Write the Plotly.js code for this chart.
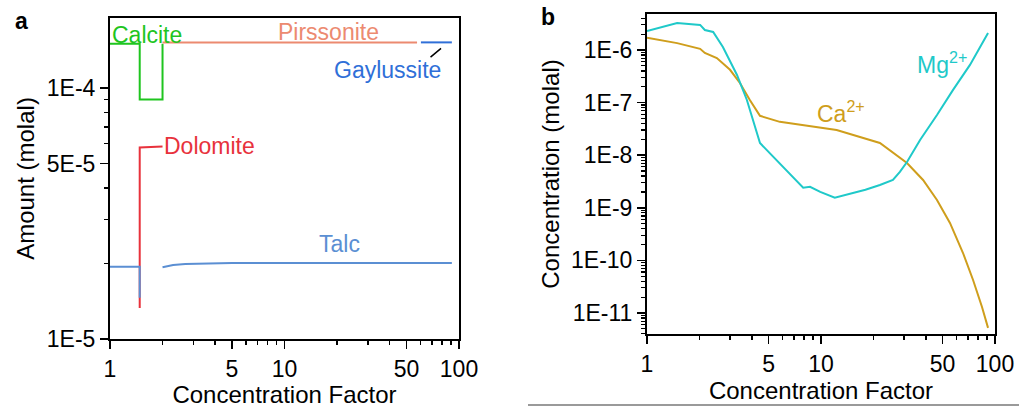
<!DOCTYPE html>
<html><head><meta charset="utf-8">
<script src="https://cdn.plot.ly/plotly-3.0.1.min.js"></script>
<style>html,body{margin:0;padding:0;background:#fff;}#chart{width:1019px;height:408px;}</style>
</head><body><div id="chart"></div>
<script>
// ---- Panel a: mineral amounts (molal) vs concentration factor ----
const cfCalcite = [1, 1.48, 1.48, 2.0, 2.0];
const amtCalcite = [1.5e-4, 1.5e-4, 9.0e-5, 9.0e-5, 1.5e-4];
const cfPirssonite = [2.0, 57.5];
const amtPirssonite = [1.52e-4, 1.52e-4];
const cfGaylussite = [60.5, 91];
const amtGaylussite = [1.52e-4, 1.52e-4];
const cfDolomite = [1.48, 1.48, 2.0];
const amtDolomite = [1.33e-5, 5.8e-5, 5.85e-5];
const cfTalc = [1, 1.48, 1.48, null, 2.0, 2.3, 2.7, 3.3, 5, 10, 50, 91];
const amtTalc = [1.94e-5, 1.94e-5, 1.46e-5, null, 1.93e-5, 1.97e-5, 1.99e-5, 2.0e-5, 2.01e-5, 2.01e-5, 2.01e-5, 2.01e-5];

// ---- Panel b: ion concentrations (molal) ----
const cfCa = [1, 1.49, 2.02, 2.15, 2.52, 3.0, 3.42, 3.9, 4.46, 5.8, 12.3, 21.8, 31.2, 38.6, 46.4, 55.1, 65.5, 74.8, 84.2, 91.2];
const concCa = [1.7e-6, 1.35e-6, 1.05e-6, 8.8e-7, 7.0e-7, 4.2e-7, 2.36e-7, 1.12e-7, 5.6e-8, 4.3e-8, 3.0e-8, 1.71e-8, 7.1e-9, 3.38e-9, 1.41e-9, 5.14e-10, 1.38e-10, 4.24e-11, 1.3e-11, 5.2e-12];
const cfMg = [1, 1.49, 2.02, 2.15, 2.4, 2.73, 3.29, 3.75, 4.46, 5.8, 7.9, 8.65, 9.9, 12.0, 18, 21.8, 25.9, 28.4, 31.2, 37.1, 46.4, 57.4, 71.8, 91.2];
const concMg = [2.3e-6, 3.26e-6, 3.0e-6, 2.4e-6, 2.2e-6, 1.14e-6, 3.35e-7, 1.12e-7, 1.7e-8, 7e-9, 2.4e-9, 2.5e-9, 2.0e-9, 1.55e-9, 2.2e-9, 2.71e-9, 3.38e-9, 4.8e-9, 7.4e-9, 1.95e-8, 5.8e-8, 1.74e-7, 5.2e-7, 2.1e-6];

// ---- Tick labels ----
const xTickVals = [1, 5, 10, 50, 100];
const xTickText = ['1', '5', '10', '50', '100'];
const xMinorVals = [2, 3, 4, 6, 7, 8, 9, 20, 30, 40, 60, 70, 80, 90];
const yaTickVals = [1e-5, 5e-5, 1e-4];
const yaTickText = ['1E-5', '5E-5', '1E-4'];
const yaMinorVals = [2e-5, 3e-5, 4e-5, 6e-5, 7e-5, 8e-5, 9e-5];
const ybTickVals = [1e-11, 1e-10, 1e-9, 1e-8, 1e-7, 1e-6];
const ybTickText = ['1E-11', '1E-10', '1E-9', '1E-8', '1E-7', '1E-6'];
const ybDecades = [1e-12, 1e-11, 1e-10, 1e-9, 1e-8, 1e-7, 1e-6];
const minorDigits = [2, 3, 4, 5, 6, 7, 8, 9];
const ybMinorVals = [];
ybDecades.forEach(d => minorDigits.forEach(m => ybMinorVals.push(m * d)));

const FONT = 'Arial, "Liberation Sans", sans-serif';
const C = {
  calcite: '#1fc51f', pirssonite: '#ec8a70', gaylussite: '#2f6fd8',
  dolomite: '#e8323c', talc: '#5b8fd3', ca: '#cf9e1c', mg: '#1fc9c9'
};

function line(x, y, color, xa, ya) {
  return {x: x, y: y, xaxis: xa, yaxis: ya, type: 'scatter', mode: 'lines',
    line: {color: color, width: 2}, hoverinfo: 'skip', showlegend: false, connectgaps: false};
}

const data = [
  line(cfCalcite, amtCalcite, C.calcite, 'x', 'y'),
  line(cfPirssonite, amtPirssonite, C.pirssonite, 'x', 'y'),
  line(cfGaylussite, amtGaylussite, C.gaylussite, 'x', 'y'),
  line(cfDolomite, amtDolomite, C.dolomite, 'x', 'y'),
  line(cfTalc, amtTalc, C.talc, 'x', 'y'),
  line(cfCa, concCa, C.ca, 'x2', 'y2'),
  line(cfMg, concMg, C.mg, 'x2', 'y2')
];

function xAxis(domain, anchor) {
  return {
    type: 'log', range: [0, 2], domain: domain, anchor: anchor,
    showline: true, linecolor: '#000', linewidth: 2, mirror: true,
    ticks: 'outside', ticklen: 8, tickwidth: 1.5, tickcolor: '#000',
    tickmode: 'array', tickvals: xTickVals, ticktext: xTickText,
    minor: {tickmode: 'array', tickvals: xMinorVals, ticks: 'outside', ticklen: 4, tickwidth: 1.5, tickcolor: '#000', showgrid: false},
    showgrid: false, zeroline: false,
    tickfont: {family: FONT, size: 23, color: '#000'},
    title: {text: 'Concentration Factor', font: {family: FONT, size: 24, color: '#000'}, standoff: 4}
  };
}
function yAxis(domain, anchor, range, tv, tt, mv, title) {
  return {
    type: 'log', range: range, domain: domain, anchor: anchor,
    showline: true, linecolor: '#000', linewidth: 2, mirror: true,
    ticks: 'outside', ticklen: 8, tickwidth: 1.5, tickcolor: '#000',
    tickmode: 'array', tickvals: tv, ticktext: tt,
    minor: {tickmode: 'array', tickvals: mv, ticks: 'outside', ticklen: 4, tickwidth: 1.2, tickcolor: '#000', showgrid: false},
    showgrid: false, zeroline: false,
    tickfont: {family: FONT, size: 23, color: '#000'},
    title: {text: title, font: {family: FONT, size: 24, color: '#000'}, standoff: 5}
  };
}

function label(text, x, y, color, xref, yref, xanchor) {
  return {text: text, x: x, y: y, xref: xref, yref: yref, xanchor: xanchor || 'center', yanchor: 'middle',
    showarrow: false, font: {family: FONT, size: 23, color: color}};
}

const layout = {
  width: 1019, height: 408,
  margin: {l: 0, r: 0, t: 0, b: 0},
  paper_bgcolor: '#fff', plot_bgcolor: '#fff',
  font: {family: FONT, color: '#000'},
  showlegend: false,
  xaxis: xAxis([0.10795, 0.45044], 'y'),
  yaxis: yAxis([0.16912, 0.95588], 'x', [-5, -3.721], yaTickVals, yaTickText, yaMinorVals, 'Amount (molal)'),
  xaxis2: xAxis([0.63494, 0.97645], 'y2'),
  yaxis2: yAxis([0.18137, 0.96569], 'x2', [-11.4, -5.316], ybTickVals, ybTickText, ybMinorVals, 'Concentration (molal)'),
  annotations: [
    label('Calcite', 0.0, -3.790, C.calcite, 'x', 'y', 'left'),
    label('Pirssonite', 1.251, -3.778, C.pirssonite, 'x', 'y'),
    label('Gaylussite', 1.589, -3.930, C.gaylussite, 'x', 'y'),
    label('Dolomite', 0.30, -4.232, C.dolomite, 'x', 'y', 'left'),
    label('Talc', 1.314, -4.622, C.talc, 'x', 'y'),
    label('Mg<sup>2+</sup>', 1.695, -6.24, C.mg, 'x2', 'y2'),
    label('Ca<sup>2+</sup>', 1.115, -7.17, C.ca, 'x2', 'y2'),
    {text: '', x: 1.897, y: -3.842, xref: 'x', yref: 'y', showarrow: true, arrowhead: 0,
      arrowwidth: 1.5, arrowcolor: '#000', ax: -12, ay: 10, standoff: 0, startstandoff: 0},
    {text: '<b>a</b>', x: 21 / 1019, y: 1 - 21 / 408, xref: 'paper', yref: 'paper', xanchor: 'center', yanchor: 'middle',
      showarrow: false, font: {family: FONT, size: 23, color: '#000'}},
    {text: '<b>b</b>', x: 548 / 1019, y: 1 - 17 / 408, xref: 'paper', yref: 'paper', xanchor: 'center', yanchor: 'middle',
      showarrow: false, font: {family: FONT, size: 23, color: '#000'}}
  ],
  shapes: [
    {type: 'line', xref: 'paper', yref: 'paper', x0: 528 / 1019, x1: 1, y0: 1 - 405 / 408, y1: 1 - 405 / 408,
      line: {color: '#9a9a9a', width: 2}}
  ]
};

Plotly.newPlot('chart', data, layout, {displayModeBar: false, staticPlot: true});
</script></body></html>
